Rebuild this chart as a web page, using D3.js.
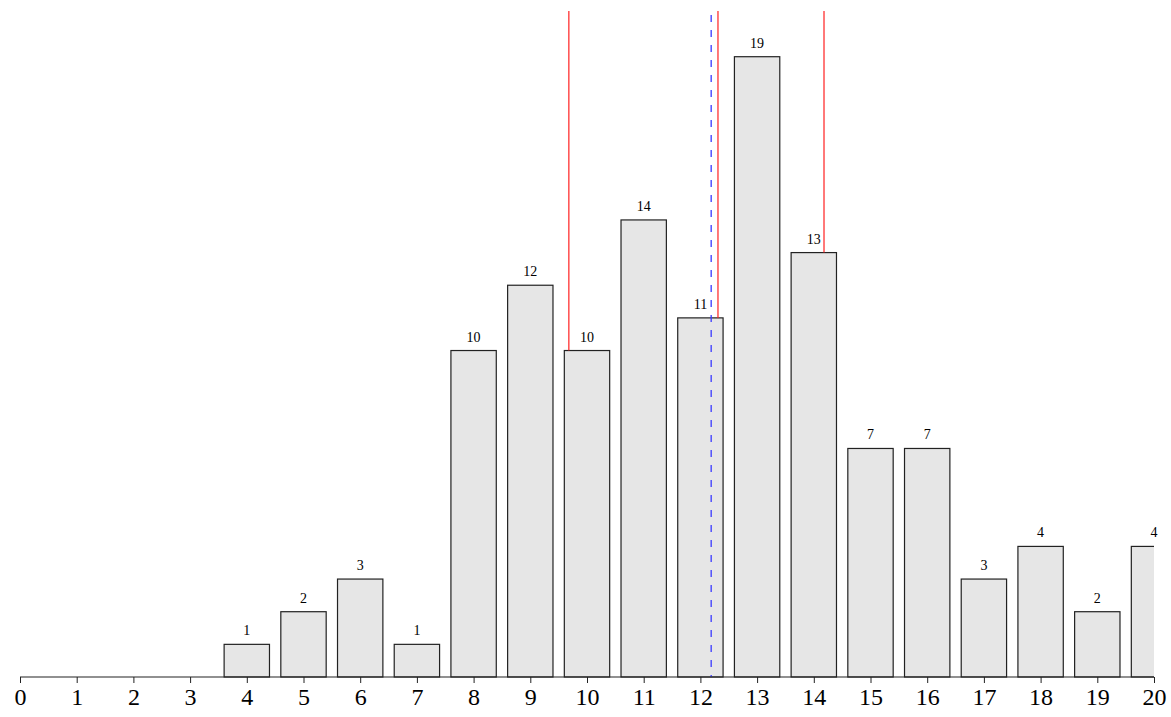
<!DOCTYPE html>
<html>
<head>
<script src="https://d3js.org/d3.v7.min.js"></script>
<style>
    body { margin: 0; background: #fff; }
    .tick text { font-family: "Liberation Serif", "DejaVu Serif", serif; font-size: 24px; fill: #000; }
    .lbl { font-family: "Liberation Serif", "DejaVu Serif", serif; font-size: 14px; fill: #000; }
</style>
</head>
<body>
<script>
    // histogram data, one bar per integer 0..20
    var bins = d3.range(0, 21);
    var counts = [0, 0, 0, 0, 1, 2, 3, 1, 10, 12, 10, 14, 11, 19, 13, 7, 7, 3, 4, 2, 4];
    var tickLabels = bins.map(String);
    // reference lines (x in data units)
    var redLines = [9.68, 12.31, 14.18];
    var blueLine = [12.19];

    var w = 1171, h = 717;
    var xLeft = 20, xRight = 1154, base = 677, plotTop = 11;

    var xScale = d3.scaleLinear().domain([0, 20]).range([xLeft, xRight]);
    var yScale = d3.scaleLinear().domain([0, 20.4]).range([base, plotTop]);
    var barW = xScale(0.8) - xScale(0);

    var svg = d3.select('body').append('svg')
        .attr('width', w).attr('height', h);

    svg.append('defs').append('clipPath').attr('id', 'plot')
        .append('rect').attr('x', xLeft).attr('y', 0).attr('width', xRight - xLeft).attr('height', base + 1);

    var data = bins.map(function (b, i) { return { x: b, v: counts[i] }; });

    var g = svg.append('g').attr('clip-path', 'url(#plot)');

    g.selectAll('rect.bar').data(data).enter().append('rect')
        .attr('class', 'bar')
        .attr('x', function (d) { return xScale(d.x - 0.4); })
        .attr('y', function (d) { return yScale(d.v); })
        .attr('width', barW)
        .attr('height', function (d) { return base - yScale(d.v); })
        .attr('fill', '#e6e6e6')
        .attr('stroke', '#222')
        .attr('stroke-width', 1.2);

    svg.selectAll('text.lbl').data(data.filter(function (d) { return d.v > 0; })).enter().append('text')
        .attr('class', 'lbl')
        .attr('x', function (d) { return xScale(d.x); })
        .attr('y', function (d) { return yScale(d.v) - 9; })
        .attr('text-anchor', 'middle')
        .text(function (d) { return d.v; });

    // red lines run from the top down to the bar they fall on
    svg.selectAll('line.red').data(redLines).enter().append('line')
        .attr('x1', function (d) { return xScale(d); })
        .attr('x2', function (d) { return xScale(d); })
        .attr('y1', yScale(20.4))
        .attr('y2', function (d) { return yScale(counts[Math.round(d)]); })
        .attr('stroke', '#ff2020')
        .attr('stroke-width', 1.2);

    svg.selectAll('line.blue').data(blueLine).enter().append('line')
        .attr('x1', function (d) { return xScale(d); })
        .attr('x2', function (d) { return xScale(d); })
        .attr('y1', yScale(20.28))
        .attr('y2', yScale(0))
        .attr('stroke', '#3a3aff')
        .attr('stroke-width', 1.3)
        .attr('stroke-dasharray', '7,8');

    var xAxis = d3.axisBottom(xScale)
        .tickValues(bins)
        .tickFormat(function (d, i) { return tickLabels[i]; })
        .tickSize(6)
        .tickPadding(5);

    var ax = svg.append('g')
        .attr('transform', 'translate(0,' + base + ')')
        .call(xAxis);
    ax.select('.domain').attr('stroke', '#222').attr('stroke-width', 1.2)
        .attr('d', 'M' + xLeft + ',0H' + xRight);
    ax.selectAll('.tick line').attr('stroke', '#222').attr('stroke-width', 1);
</script>
</body>
</html>
